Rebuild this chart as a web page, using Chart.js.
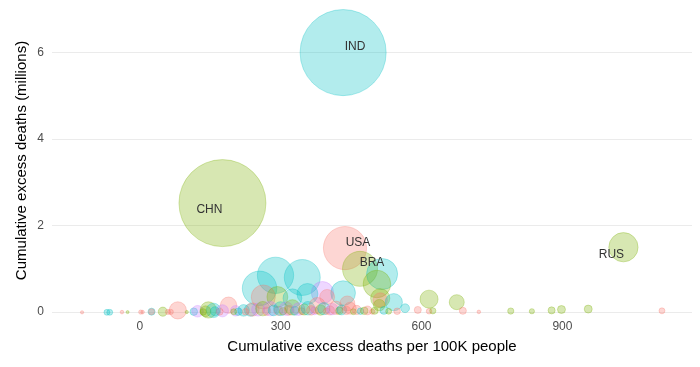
<!DOCTYPE html>
<html>
<head>
<meta charset="utf-8">
<script src="https://cdn.jsdelivr.net/npm/chart.js@4"></script>
<style>
  html, body { margin: 0; padding: 0; background: #fff; }
  #wrap { width: 700px; height: 367px; }
</style>
</head>
<body>
<div id="wrap"><canvas id="myChart" width="700" height="367"></canvas></div>
<script>
// country codes (only the big ones are labelled)
const codes = [
  'IND', 'CHN', 'USA', 'BRA', 'RUS', 'BGD', 'MEX', 'IDN', 'PAK', 'NGA',
  'ETH', 'PHL', 'r13', 'c14', 'o15', 'c16', 'r17', 'ZAF', 'r19', 'c20',
  'r21', 'o22', 'c23', 'r24', 'r25', 'o26', 'COL', 'o28', 'r29', 'r30',
  'o31', 'o32', 'o33', 'o34', 'o35', 'r36', 'r37', 'c38', 'c39', 'r40',
  'o41', 'r42', 'r43', 'c44', 'r45', 'o46', 'r47', 'r48', 'r49', 'o50',
  'c51', 'p52', 'o53', 'c54', 'o55', 'r56', 'p57', 'p58', 'c59', 'c60',
  'r61', 'p62', 'o63', 'r64', 'p65', 'c66', 'r67', 'c68', 'o69', 'p70',
  'r71', 'o72', 'c73', 'p74', 'r75', 'o76', 'c77', 'r78', 'p79', 'r80',
  'o81', 'c82', 'r83', 'r84', 'p85', 'r86', 'o87', 'c88', 'r89', 'r90',
  'o91', 'r92', 'c93', 'o94', 'r95', 'r96', 'o97', 'c98', 'o99', 'r100',
  'r101', 'c102', 'o103', 'r104', 'c105', 'o106'
];

// cumulative excess deaths per 100K people
const per100k = [
  433, 176, 437, 469, 1030, 516, 505, 289, 346, 255,
  389, 433, 263, 357, 293, 325, 399, 512, 512, 541,
  442, 510, 565, 592, 616, 624, 616, 675, 688, 722,
  790, 835, 877, 898, 955, 1112, -123, -70, -64, -38,
  -26, 2, 6, 25, 25, 49, 60, 66, 81, 100,
  115, 123, 146, 157, 140, 189, 176, 204, 221, 236,
  240, 252, 262, 270, 278, 285, 295, 300, 305, 312,
  318, 325, 330, 338, 345, 350, 358, 365, 372, 378,
  385, 392, 398, 405, 410, 418, 425, 430, 440, 448,
  455, 462, 470, 478, 485, 495, 500, 520, 530, 548,
  225, 210, 200, 170, 160, 135
];

// cumulative excess deaths (millions)
const excessM = [
  6.0, 2.52, 1.48, 1.0, 1.5, 0.88, 0.65, 0.85, 0.80, 0.55,
  0.45, 0.44, 0.35, 0.42, 0.35, 0.32, 0.35, 0.32, 0.28, 0.23,
  0.20, 0.16, 0.09, 0.05, 0.02, 0.03, 0.30, 0.23, 0.03, 0.005,
  0.025, 0.02, 0.04, 0.06, 0.07, 0.03, -0.005, -0.005, -0.005, 0,
  0, 0, 0, 0.01, 0.01, 0.01, 0.005, 0.005, 0.04, 0.002,
  0.01, 0.02, 0.05, 0.04, 0.02, 0.16, 0.03, 0.03, 0.04, 0.05,
  0.06, 0.06, 0.08, 0.02, 0.08, 0.04, 0.03, 0.08, 0.02, 0.08,
  0.04, 0.11, 0.03, 0.07, 0.02, 0.06, 0.09, 0.04, 0.03, 0.15,
  0.05, 0.08, 0.02, 0.04, 0.07, 0.10, 0.03, 0.05, 0.04, 0.09,
  0.01, 0.05, 0.02, 0.03, 0.04, 0.01, 0.03, 0.04, 0.02, 0.02,
  0.01, 0.01, 0.01, 0.01, 0.02, 0.005
];

// population (millions)
const popM = [
  1380, 1410, 331, 213, 145, 165, 128, 230, 225, 206,
  80, 100, 95, 70, 70, 55, 33, 58, 30, 45,
  33, 18, 9, 5, 2.5, 3.5, 50, 33, 5, 0.5,
  3.5, 2, 5, 7, 7, 3, 0.3, 3, 3, 0.5,
  0.2, 1, 0.5, 5, 3, 10, 2, 2, 45, 0.3,
  6, 18, 40, 30, 15, 40, 20, 14, 18, 22,
  25, 24, 30, 8, 30, 15, 10, 28, 6, 26,
  12, 35, 9, 22, 5, 16, 26, 11, 7, 40,
  14, 20, 4, 10, 17, 25, 6, 12, 8, 20,
  3, 10, 4, 6, 9, 2, 5, 7, 3, 4,
  4, 6, 3, 5, 10, 4
];

// income group: 0 high, 1 upper middle, 2 lower middle, 3 low
const incomeGroup = [
  2, 1, 0, 1, 1, 2, 1, 2, 2, 2,
  3, 2, 0, 2, 1, 2, 0, 1, 0, 2,
  0, 1, 2, 0, 0, 1, 1, 1, 0, 0,
  1, 1, 1, 1, 1, 0, 0, 2, 2, 0,
  1, 0, 0, 2, 0, 1, 0, 0, 0, 1,
  2, 3, 1, 2, 1, 0, 3, 3, 2, 2,
  0, 3, 1, 0, 3, 2, 0, 2, 1, 3,
  0, 1, 2, 3, 0, 1, 2, 0, 3, 0,
  1, 2, 0, 0, 3, 0, 1, 2, 0, 0,
  1, 0, 2, 1, 0, 0, 1, 2, 1, 0,
  0, 2, 1, 0, 2, 1
];

const labelled = ['IND', 'CHN', 'USA', 'BRA', 'RUS'];
const xTicks = [0, 300, 600, 900];
const yTicks = [0, 2, 4, 6];

const groupRGB = ['248,118,109', '124,174,0', '0,191,196', '199,124,255'];
const FONT = '"Liberation Sans", Arial, sans-serif';

const maxPop = Math.max(...popM);
const points = per100k.map((x, i) => ({
  x: x,
  y: excessM[i],
  r: 1 + 42.5 * Math.sqrt(popM[i] / maxPop),
  code: codes[i]
}));

// text offsets for labels, in pixels
const labelOffsets = {
  IND: [12, -6], CHN: [-13, 7], USA: [13, -5], BRA: [12, -6], RUS: [-12, 7]
};

const labelPlugin = {
  id: 'codeLabels',
  afterDatasetsDraw(chart) {
    const ctx = chart.ctx;
    const xs = chart.scales.x, ys = chart.scales.y;
    ctx.save();
    ctx.font = '12px ' + FONT;
    ctx.fillStyle = '#333333';
    ctx.textAlign = 'center';
    ctx.textBaseline = 'middle';
    points.forEach(p => {
      if (!labelled.includes(p.code)) return;
      const off = labelOffsets[p.code];
      ctx.fillText(p.code, xs.getPixelForValue(p.x) + off[0], ys.getPixelForValue(p.y) + off[1]);
    });
    ctx.restore();
  }
};

new Chart(document.getElementById('myChart'), {
  type: 'bubble',
  data: {
    datasets: [{
      data: points,
      backgroundColor: incomeGroup.map(g => `rgba(${groupRGB[g]},0.3)`),
      borderColor: incomeGroup.map(g => `rgba(${groupRGB[g]},0.3)`),
      borderWidth: 1,
      clip: false
    }]
  },
  options: {
    responsive: false,
    animation: false,
    events: [],
    layout: { autoPadding: false, padding: { top: 5, right: 8, left: 0, bottom: 0 } },
    plugins: {
      legend: { display: false },
      tooltip: { enabled: false }
    },
    scales: {
      x: {
        type: 'linear',
        min: -187,
        max: 1176,
        afterBuildTicks: s => { s.ticks = xTicks.map(v => ({ value: v })); },
        afterFit: s => { s.height = 51; s.paddingLeft = 0; s.paddingRight = 0; },
        grid: { display: false, drawTicks: false },
        border: { display: false },
        ticks: { color: '#4d4d4d', font: { family: FONT, size: 12 }, padding: 3 },
        title: {
          display: true,
          text: 'Cumulative excess deaths per 100K people',
          color: '#000',
          font: { family: FONT, size: 15 },
          padding: { bottom: 11 }
        }
      },
      y: {
        type: 'linear',
        min: -0.09,
        max: 7.1,
        afterBuildTicks: s => { s.ticks = yTicks.map(v => ({ value: v })); },
        afterFit: s => { s.width = 52; s.paddingTop = 0; s.paddingBottom = 0; },
        grid: { color: '#ebebeb', lineWidth: 1, drawTicks: false },
        border: { display: false },
        ticks: { color: '#4d4d4d', font: { family: FONT, size: 12 }, padding: 8 },
        title: {
          display: true,
          text: 'Cumulative excess deaths (millions)',
          color: '#000',
          font: { family: FONT, size: 15 },
          padding: { top: 13 }
        }
      }
    }
  },
  plugins: [labelPlugin]
});
</script>
</body>
</html>
